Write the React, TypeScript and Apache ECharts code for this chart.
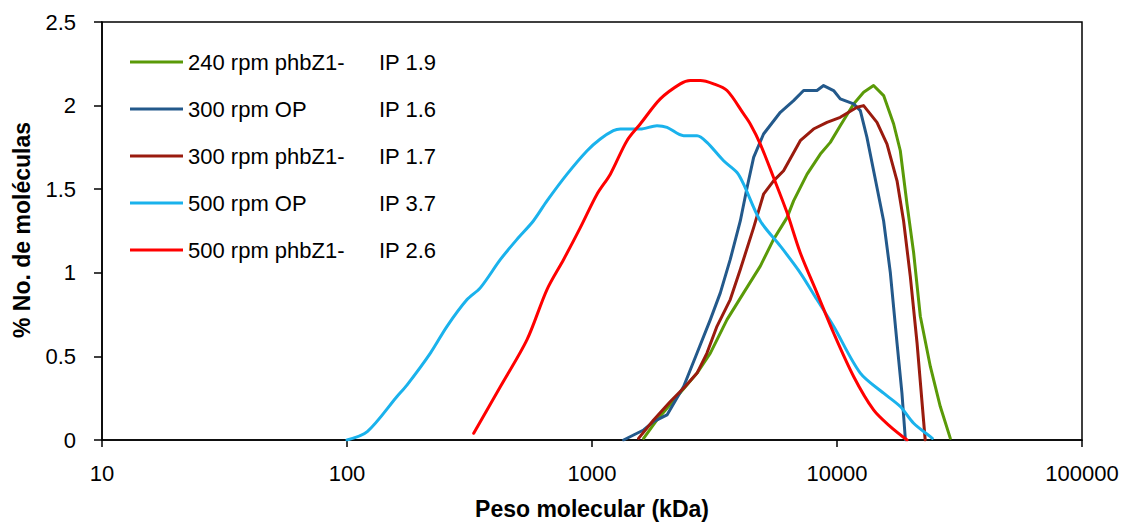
import React, { useEffect, useRef } from "react";
import * as echarts from "echarts";

const seriesNames = ["240 rpm phbZ1-", "300 rpm OP", "300 rpm phbZ1-", "500 rpm OP", "500 rpm phbZ1-"];
const ipLabels = ["IP 1.9", "IP 1.6", "IP 1.7", "IP 3.7", "IP 2.6"];
const colors = ["#5A9A08", "#23598B", "#9A1B0E", "#1AB2EC", "#FF0000"];
const xTicks = [10, 100, 1000, 10000, 100000];

const mw240 = [1624, 1842, 2224, 2684, 3041, 3557, 4157, 4864, 5509, 6252, 6650, 7550, 8550, 9390, 10310, 11690, 12840, 14100, 15500, 17030, 18130, 19310, 20550, 21880, 24040, 26400, 29010];
const pct240 = [0.01, 0.12, 0.26, 0.40, 0.52, 0.72, 0.88, 1.04, 1.20, 1.33, 1.43, 1.59, 1.71, 1.78, 1.88, 2.01, 2.08, 2.12, 2.06, 1.89, 1.73, 1.41, 1.12, 0.74, 0.44, 0.20, 0.01];

const mw300op = [1346, 1478, 1624, 1784, 2024, 2366, 2684, 3041, 3340, 3667, 4030, 4295, 4568, 5014, 5871, 6650, 7306, 8282, 8816, 9686, 10310, 11690, 12450, 13250, 14560, 15500, 16510, 17580, 18410, 19020];
const pct300op = [0, 0.03, 0.06, 0.11, 0.15, 0.32, 0.52, 0.72, 0.88, 1.08, 1.31, 1.51, 1.69, 1.83, 1.96, 2.03, 2.09, 2.09, 2.12, 2.09, 2.04, 2.01, 1.97, 1.81, 1.51, 1.31, 1.00, 0.58, 0.28, 0];

const mw300phb = [1549, 1784, 2088, 2366, 2684, 2946, 3237, 3667, 4030, 4568, 5014, 5509, 6053, 7080, 8020, 9100, 10310, 12070, 12840, 14560, 16000, 17580, 18700, 19910, 21220, 22910];
const pct300phb = [0.01, 0.12, 0.23, 0.31, 0.40, 0.52, 0.68, 0.84, 1.02, 1.27, 1.47, 1.55, 1.61, 1.79, 1.86, 1.90, 1.93, 1.99, 2.00, 1.90, 1.77, 1.55, 1.31, 0.98, 0.58, 0];

const mw500op = [100, 121, 160, 176, 219, 256, 309, 350, 423, 494, 576, 655, 791, 955, 1081, 1222, 1306, 1574, 1842, 2024, 2366, 2684, 2946, 3445, 3908, 4157, 4864, 5871, 7080, 8282, 9686, 12450, 15500, 18130, 20550, 24040, 24500];
const pct500op = [0, 0.05, 0.26, 0.33, 0.52, 0.68, 0.84, 0.91, 1.08, 1.20, 1.31, 1.43, 1.59, 1.73, 1.80, 1.85, 1.86, 1.86, 1.88, 1.87, 1.82, 1.82, 1.78, 1.67, 1.60, 1.53, 1.31, 1.16, 1.00, 0.84, 0.68, 0.40, 0.28, 0.20, 0.10, 0.02, 0.01];

const mw500phb = [329, 423, 543, 655, 766, 896, 1048, 1188, 1389, 1574, 1900, 2293, 2518, 2768, 3135, 3557, 4157, 4426, 4864, 5509, 6252, 7080, 8282, 9686, 11690, 14100, 16510, 19310];
const pct500phb = [0.04, 0.32, 0.60, 0.90, 1.08, 1.27, 1.47, 1.59, 1.79, 1.89, 2.04, 2.13, 2.15, 2.15, 2.13, 2.09, 1.95, 1.89, 1.77, 1.57, 1.36, 1.12, 0.88, 0.64, 0.38, 0.18, 0.08, 0];

const xs = [mw240, mw300op, mw300phb, mw500op, mw500phb];
const ys = [pct240, pct300op, pct300phb, pct500op, pct500phb];
const smoothFlags = [false, false, false, 0.3, 0.3];

const FONT = "'Liberation Sans', Arial, sans-serif";

export default function App() {
  const ref = useRef<HTMLDivElement>(null);
  useEffect(() => {
    if (!ref.current) return;
    const chart = echarts.init(ref.current, undefined, { renderer: "svg" });
    const ipByName: Record<string, string> = {};
    seriesNames.forEach((n, i) => (ipByName[n] = ipLabels[i]));
    chart.setOption({
      animation: false,
      textStyle: { fontFamily: FONT },
      grid: {
        left: 102,
        right: 46,
        top: 22,
        bottom: 87,
        show: true,
        borderColor: "#000",
        borderWidth: 1.5,
        backgroundColor: "transparent",
      },
      legend: {
        orient: "vertical",
        left: 125,
        top: 46,
        icon: "rect",
        itemWidth: 53,
        itemHeight: 3,
        itemGap: 25,
        data: seriesNames,
        formatter: (name: string) => `{a|${name}}{b|${ipByName[name]}}`,
        textStyle: {
          color: "#000",
          fontFamily: FONT,
          fontSize: 22,
          rich: {
            a: { width: 191, fontSize: 22, fontFamily: FONT, color: "#000", lineHeight: 24 },
            b: { fontSize: 22, fontFamily: FONT, color: "#000", lineHeight: 24 },
          },
        },
      },
      xAxis: {
        type: "log",
        logBase: 10,
        min: xTicks[0],
        max: xTicks[xTicks.length - 1],
        axisLine: { show: true, onZero: false, lineStyle: { color: "#000", width: 1.5 } },
        axisTick: { show: true, inside: false, length: 7, lineStyle: { color: "#000", width: 1.5 } },
        minorTick: { show: false },
        splitLine: { show: false },
        axisLabel: {
          color: "#000",
          fontSize: 22,
          fontFamily: FONT,
          margin: 22,
          formatter: (v: number) => String(Math.round(v)),
        },
      },
      yAxis: {
        type: "value",
        min: 0,
        max: 2.5,
        interval: 0.5,
        axisLine: { show: true, lineStyle: { color: "#000", width: 1.5 } },
        axisTick: { show: true, inside: false, length: 8, lineStyle: { color: "#000", width: 1.5 } },
        splitLine: { show: false },
        axisLabel: { color: "#000", fontSize: 22, fontFamily: FONT, margin: 26 },
      },
      graphic: [
        {
          type: "text",
          x: 592,
          y: 509,
          style: {
            text: "Peso molecular (kDa)",
            font: `bold 23px ${FONT}`,
            fill: "#000",
            textAlign: "center",
            textVerticalAlign: "middle",
          },
        },
        {
          type: "text",
          x: 22,
          y: 230,
          rotation: Math.PI / 2,
          style: {
            text: "% No. de moléculas",
            font: `bold 23px ${FONT}`,
            fill: "#000",
            textAlign: "center",
            textVerticalAlign: "middle",
          },
        },
      ],
      series: seriesNames.map((name, i) => ({
        name,
        type: "line",
        data: xs[i].map((x, j) => [x, ys[i][j]]),
        showSymbol: false,
        symbol: "none",
        smooth: smoothFlags[i],
        lineStyle: { color: colors[i], width: 3, cap: "round", join: "round" },
        itemStyle: { color: colors[i] },
        z: 2 + i,
      })),
    });
    return () => chart.dispose();
  }, []);
  return (
    <div
      ref={ref}
      style={{ position: "absolute", left: 0, top: 0, width: 1128, height: 527 }}
    />
  );
}
